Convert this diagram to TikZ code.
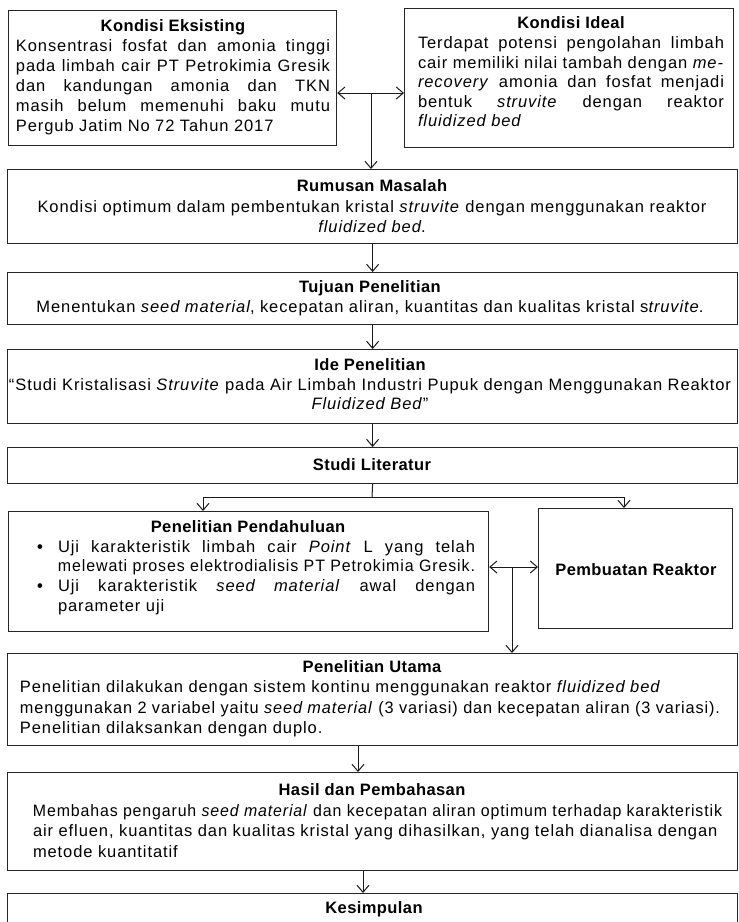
\documentclass[tikz,border=0pt]{standalone}
\usepackage{fontspec}
\usepackage{graphicx}
\setmainfont{Liberation Sans}[LetterSpace=5.5]
\usetikzlibrary{arrows.meta}
\newsavebox\fbx
\newcommand\fitj[2]{\sbox\fbx{#2}\ifdim\wd\fbx>#1pt\relax\resizebox{#1pt}{\height}{\usebox\fbx}\else\makebox[#1pt][s]{#2}\fi}
\newcommand\fitl[2]{\sbox\fbx{#2}\ifdim\wd\fbx>#1pt\relax\resizebox{#1pt}{\height}{\usebox\fbx}\else\makebox[#1pt][l]{#2}\fi}
\newcommand\fitc[2]{\sbox\fbx{#2}\ifdim\wd\fbx>#1pt\relax\resizebox{#1pt}{\height}{\usebox\fbx}\else\makebox[#1pt][c]{#2}\fi}
\newcommand\ttl[1]{{\addfontfeature{LetterSpace=2.5}\bfseries #1}}
\begin{document}
\begin{tikzpicture}[x=1pt,y=-1pt,
  box/.style={draw=black!85,line width=1.2pt,inner sep=0pt,anchor=north west},
  txt/.style={inner sep=0pt,align=center,text=black},
  arr/.style={-{Straight Barb[length=7pt,width=12pt]},line width=1pt,draw=black!90},
  ln/.style={line width=1pt,draw=black!90}]
\fill[white] (0,0) rectangle (739,922);
\useasboundingbox (0,0) rectangle (739,922);
% boxes
\node[box,minimum width=328pt,minimum height=135pt] (eks) at (8,10) {};
\node[box,minimum width=329pt,minimum height=139pt] (ide) at (404,8) {};
\node[box,minimum width=730pt,minimum height=74pt] (rum) at (7,169) {};
\node[box,minimum width=730pt,minimum height=52pt] (tuj) at (7,272) {};
\node[box,minimum width=730pt,minimum height=74pt] (ids) at (7,349) {};
\node[box,minimum width=730pt,minimum height=36pt] (stu) at (7,447) {};
\node[box,minimum width=480pt,minimum height=120pt] (pen) at (8,511) {};
\node[box,minimum width=194pt,minimum height=120pt] (rea) at (538,508) {};
\node[box,minimum width=730pt,minimum height=92pt] (uta) at (7,653) {};
\node[box,minimum width=730pt,minimum height=98pt] (has) at (7,772) {};
\node[box,minimum width=730pt,minimum height=50pt] (kes) at (7,893) {};
% texts
\node[txt,font=\fontsize{16.5}{20}\selectfont] (eks-t) at (173,77) {%
\ttl{Kondisi Eksisting}\\
\fitj{314}{Konsentrasi fosfat dan amonia tinggi}\\
\fitj{314}{pada limbah cair PT Petrokimia Gresik}\\
\fitj{314}{dan kandungan amonia dan TKN}\\
\fitj{314}{masih belum memenuhi baku mutu}\\
\fitl{314}{Pergub Jatim No 72 Tahun 2017}};
\node[txt,font=\fontsize{16.5}{19.6}\selectfont] (ide-t) at (571,72) {%
\ttl{Kondisi Ideal}\\
\fitj{306}{Terdapat potensi pengolahan limbah}\\
\fitj{306}{cair memiliki nilai tambah dengan \textit{me-}}\\
\fitj{306}{\textit{recovery} amonia dan fosfat menjadi}\\
\fitj{306}{bentuk \textit{struvite} dengan reaktor}\\
\fitl{306}{\textit{fluidized bed}}};
\node[txt,font=\fontsize{16.5}{20.5}\selectfont] (rum-t) at (372,206.5) {%
\ttl{Rumusan Masalah}\\
\fitc{704}{Kondisi optimum dalam pembentukan kristal \textit{struvite} dengan menggunakan reaktor}\\
\textit{fluidized bed}.};
\node[txt,font=\fontsize{16.5}{20}\selectfont] (tuj-t) at (370,298) {%
\ttl{Tujuan Penelitian}\\
\fitc{686}{Menentukan \textit{seed material}, kecepatan aliran, kuantitas dan kualitas kristal s\textit{truvite}.}};
\node[txt,font=\fontsize{16.5}{19.5}\selectfont] (ids-t) at (370,384.5) {%
\ttl{Ide Penelitian}\\
\fitc{722}{“Studi Kristalisasi \textit{Struvite} pada Air Limbah Industri Pupuk dengan Menggunakan Reaktor}\\
\textit{Fluidized Bed}”};
\node[txt,font=\fontsize{16.5}{20}\selectfont] (stu-t) at (372,465) {\ttl{Studi Literatur}};
\node[txt,font=\fontsize{16.5}{19.7}\selectfont] (pen-t) at (256,567.5) {%
\makebox[438pt]{\hspace{-16pt}\ttl{Penelitian Pendahuluan}}\\
\makebox[21pt][l]{\hspace{0pt}\textbf{•}}\fitj{417}{Uji karakteristik limbah cair \textit{Point} L yang telah}\\
\makebox[21pt][l]{}\fitl{417}{melewati proses elektrodialisis PT Petrokimia Gresik.}\\
\makebox[21pt][l]{\hspace{0pt}\textbf{•}}\fitj{417}{Uji karakteristik \textit{seed material} awal dengan}\\
\makebox[21pt][l]{}\fitl{417}{parameter uji}};
\node[txt,font=\fontsize{16.5}{20}\selectfont] (rea-t) at (636,570) {\ttl{Pembuatan Reaktor}};
\node[txt,font=\fontsize{16.5}{20.5}\selectfont] (uta-t) at (370,698.5) {%
\makebox[700pt]{\hspace{4pt}\ttl{Penelitian Utama}}\\
\fitl{700}{Penelitian dilakukan dengan sistem kontinu menggunakan reaktor \textit{fluidized bed}}\\
\fitl{700}{menggunakan 2 variabel yaitu \textit{seed material} (3 variasi) dan kecepatan aliran (3 variasi).}\\
\fitl{700}{Penelitian dilaksankan dengan duplo.}};
\node[txt,font=\fontsize{16.5}{20.5}\selectfont] (has-t) at (377.5,820.5) {%
\makebox[689pt]{\hspace{-11pt}\ttl{Hasil dan Pembahasan}}\\
\fitl{689}{Membahas pengaruh \textit{seed material} dan kecepatan aliran optimum terhadap karakteristik}\\
\fitl{689}{air efluen, kuantitas dan kualitas kristal yang dihasilkan, yang telah dianalisa dengan}\\
\fitl{689}{metode kuantitatif}};
\node[txt,font=\fontsize{16.5}{20}\selectfont] (kes-t) at (374,909) {\ttl{Kesimpulan}};
% connectors
\coordinate (j1) at (371,93);
\draw[arr] (j1) -- (j1 -| eks.east);
\draw[arr] (j1) -- (j1 -| ide.west);
\draw[arr] (j1) -- (j1 |- rum.north);
\draw[arr] (rum.south) -- (tuj.north);
\draw[arr] (tuj.south) -- (ids.north);
\draw[arr] (ids.south) -- (stu.north);
\coordinate (bm) at (372,497);
\coordinate (bl) at (203,497);
\coordinate (br) at (624,497);
\draw[ln] (stu.south) -- (bm);
\draw[ln] (bl) -- (br);
\draw[arr] (bl) -- (bl |- pen.north);
\draw[arr] (br) -- (br |- rea.north);
\coordinate (d) at (512,567);
\draw[arr] (d) -- (d -| pen.east);
\draw[arr] (d) -- (d -| rea.west);
\draw[arr] (d) -- (d |- uta.north);
\coordinate (c1) at (358,0);
\coordinate (c2) at (363,0);
\draw[arr] (uta.south -| c1) -- (has.north -| c1);
\draw[arr] (has.south -| c2) -- (kes.north -| c2);
\end{tikzpicture}
\end{document}
